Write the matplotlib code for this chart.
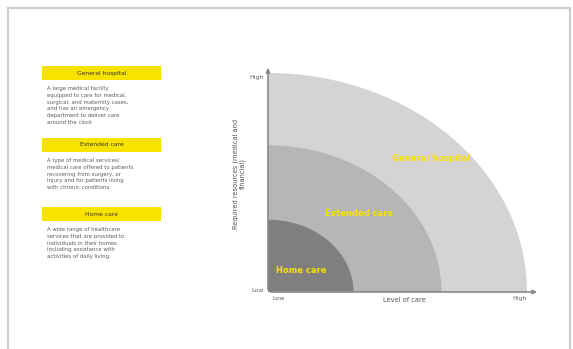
import numpy as np
import matplotlib
matplotlib.use("Agg")
import matplotlib.pyplot as plt
from matplotlib.patches import Rectangle, Polygon

W, H = 573, 349

# ---- data ----
zones = ["General hospital", "Extended care", "Home care"]
radii = [1.0, 0.67, 0.33]
zone_colors = ["#d4d4d4", "#b6b6b6", "#7f7f7f"]
label_pos = [(0.63, 0.61), (0.35, 0.36), (0.13, 0.096)]
x_ticks = [0.04, 0.97]
x_ticklabels = ["Low", "High"]
y_ticks = [0.01, 0.98]
y_ticklabels = ["Low", "High"]
descriptions = [
    "A large medical facility\nequipped to care for medical,\nsurgical, and maternity cases,\nand has an emergency\ndepartment to deliver care\naround the clock",
    "A type of medical services/\nmedical care offered to patients\nrecovering from surgery, or\ninjury and for patients living\nwith chronic conditions.",
    "A wide range of healthcare\nservices that are provided to\nindividuals in their homes\nincluding assistance with\nactivities of daily living.",
]
box_tops = [66, 138, 207]

YELLOW = "#f7e200"

fig = plt.figure(figsize=(W / 100, H / 100), dpi=100)
fig.patch.set_facecolor("white")

# overlay axes in pixel coordinates
ov = fig.add_axes([0, 0, 1, 1])
ov.set_xlim(0, W)
ov.set_ylim(H, 0)
ov.axis("off")

# frame
ov.plot([8, 8, 570, 570], [349, 7.5, 7.5, 349], color="#cfcfcf", lw=1.6, solid_joinstyle="miter")

for title, desc, top in zip(zones, descriptions, box_tops):
    ov.add_patch(Rectangle((42, top), 119, 14, facecolor=YELLOW, edgecolor="none"))
    ov.text(101.5, top + 7, title, ha="center", va="center", fontsize=4.3, color="#333333")
    ov.text(47, top + 20, desc, ha="left", va="top", fontsize=3.9, color="#5f5f5f", linespacing=1.45)

# chart axes
x0, y0, x1, y1 = 268, 292, 540, 65
ax = fig.add_axes([x0 / W, (H - y0) / H, (x1 - x0) / W, (y0 - y1) / H])
ax.set_xlim(0, (x1 - x0) / 259)
ax.set_ylim(0, (y0 - y1) / 219)
ax.patch.set_alpha(0)
for s in ax.spines.values():
    s.set_visible(False)

theta = np.linspace(0, np.pi / 2, 200)
for r, c in zip(radii, zone_colors):
    pts = np.column_stack([np.r_[0, r * np.cos(theta)], np.r_[0, r * np.sin(theta)]])
    ax.add_patch(Polygon(pts, closed=True, facecolor=c, edgecolor="none"))

for name, (lx, ly) in zip(zones, label_pos):
    ax.text(lx, ly, name, ha="center", va="center", fontsize=6, color=YELLOW, fontweight="bold")

ax.annotate("", xy=(1, 0), xytext=(0, 0), xycoords="axes fraction",
            arrowprops=dict(arrowstyle="-|>", color="#8a8a8a", lw=1.2, mutation_scale=6))
ax.annotate("", xy=(0, 1), xytext=(0, 0), xycoords="axes fraction",
            arrowprops=dict(arrowstyle="-|>", color="#8a8a8a", lw=1.2, mutation_scale=6))

ax.set_xticks(x_ticks)
ax.set_xticklabels(x_ticklabels)
ax.set_yticks(y_ticks)
ax.set_yticklabels(y_ticklabels)
ax.tick_params(length=0, labelsize=4.5, labelcolor="#666666", pad=3)
ax.set_xlabel("Level of care", fontsize=4.8, color="#555555", labelpad=-3)
ax.set_ylabel("Required resources (medical and\nfinancial)", fontsize=4.8, color="#555555",
              labelpad=0)
ax.yaxis.set_label_coords(-0.08, 0.52)

fig.savefig("out.png", dpi=100)
